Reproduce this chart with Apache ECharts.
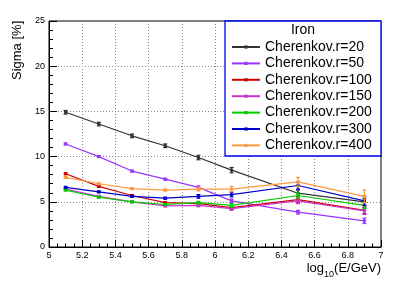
<!DOCTYPE html>
<html><head><meta charset="utf-8">
<script src="https://cdn.jsdelivr.net/npm/echarts@6/dist/echarts.min.js"></script>
<style>html,body{margin:0;padding:0;background:#fff}#c{width:415px;height:282px}</style>
</head><body><div id="c"></div>
<script>
const xs = [5.1, 5.3, 5.5, 5.7, 5.9, 6.1, 6.5, 6.9];
const names = ['Cherenkov.r=20','Cherenkov.r=50','Cherenkov.r=100','Cherenkov.r=150','Cherenkov.r=200','Cherenkov.r=300','Cherenkov.r=400'];
const colors = ['#333333','#9933ff','#cc0000','#cc33cc','#00cc00','#0000cc','#ff9940'];
const r20  = [14.9, 13.6, 12.3, 11.2, 9.9, 8.5, 5.95, 5.0];
const r50  = [11.4, 10.0, 8.4, 7.5, 6.6, 5.1, 3.85, 2.9];
const r100 = [8.1, 6.7, 5.7, 4.9, 4.8, 4.35, 5.25, 4.05];
const r150 = [6.4, 5.6, 5.0, 4.55, 4.6, 4.25, 5.1, 4.0];
const r200 = [6.3, 5.5, 5.0, 4.7, 4.9, 4.6, 5.7, 4.6];
const r300 = [6.6, 6.1, 5.6, 5.4, 5.6, 5.8, 6.8, 5.1];
const r400 = [7.7, 7.0, 6.45, 6.3, 6.4, 6.4, 7.2, 5.6];
const e20  = [0.2, 0.2, 0.2, 0.2, 0.25, 0.3, 0.35, 0.35];
const e50  = [0.1, 0.1, 0.1, 0.1, 0.15, 0.2, 0.2, 0.3];
const e100 = [0.1, 0.1, 0.1, 0.1, 0.15, 0.2, 0.3, 0.35];
const e150 = [0.1, 0.1, 0.1, 0.1, 0.15, 0.2, 0.3, 0.4];
const e200 = [0.1, 0.1, 0.1, 0.1, 0.15, 0.2, 0.3, 0.35];
const e300 = [0.1, 0.1, 0.1, 0.1, 0.2, 0.25, 0.4, 0.5];
const e400 = [0.1, 0.1, 0.1, 0.1, 0.2, 0.3, 0.5, 0.7];
const xTicks = ['5','5.2','5.4','5.6','5.8','6','6.2','6.4','6.6','6.8','7'];
const yTicks = ['0','5','10','15','20','25'];

const vals = [r20, r50, r100, r150, r200, r300, r400];
const errs = [e20, e50, e100, e150, e200, e300, e400];

const series = [];
vals.forEach((v, i) => {
  series.push({
    name: names[i], type: 'line', data: xs.map((x, j) => [x, v[j]]),
    symbol: 'rect', symbolSize: 3, showSymbol: true,
    lineStyle: {color: colors[i], width: 1.2}, itemStyle: {color: colors[i]},
    emphasis: {disabled: true}, z: 3 + i
  });
  series.push({
    name: 'err' + i, type: 'custom',
    data: xs.map((x, j) => [x, v[j] - errs[i][j], v[j] + errs[i][j]]),
    renderItem: function (params, api) {
      const x = api.value(0);
      const p1 = api.coord([x, api.value(1)]);
      const p2 = api.coord([x, api.value(2)]);
      const st = {stroke: colors[i], lineWidth: 1.2};
      return {type: 'group', children: [
        {type: 'line', shape: {x1: p1[0], y1: p1[1], x2: p2[0], y2: p2[1]}, style: st},
        {type: 'line', shape: {x1: p1[0]-2, y1: p1[1], x2: p1[0]+2, y2: p1[1]}, style: st},
        {type: 'line', shape: {x1: p2[0]-2, y1: p2[1], x2: p2[0]+2, y2: p2[1]}, style: st}
      ]};
    },
    z: 3 + i
  });
});

const FF = 'Liberation Sans';
const ctx = document.createElement('canvas').getContext('2d');
function tw(t, s) { ctx.font = s + 'px "' + FF + '"'; return ctx.measureText(t).width; }
const xr = 381, xb = 262;
const wPar = tw('(E/GeV)', 13), wSub = tw('10', 9);

const chart = echarts.init(document.getElementById('c'), null, {renderer: 'canvas'});
chart.setOption({
  animation: false,
  textStyle: {fontFamily: FF},
  grid: {left: 49, right: 34, top: 21, bottom: 35, show: true, borderColor: '#000', borderWidth: 1},
  xAxis: {
    type: 'value', min: 5, max: 7, interval: 0.2,
    axisLine: {show: true, lineStyle: {color: '#000'}},
    axisTick: {show: true, inside: true, length: 7, lineStyle: {color: '#000'}},
    minorTick: {show: true, splitNumber: 4, length: 3.5, lineStyle: {color: '#000'}},
    splitLine: {show: true, lineStyle: {color: '#888', type: [1, 2], width: 1}},
    axisLabel: {fontSize: 9, color: '#000', margin: 4,
      formatter: function (v) { const s = xTicks.find(t => Math.abs(parseFloat(t) - v) < 1e-6); return s === undefined ? '' : s; }}
  },
  yAxis: {
    type: 'value', min: 0, max: 25, interval: 5,
    axisLine: {show: true, lineStyle: {color: '#000'}},
    axisTick: {show: true, inside: true, length: 8, lineStyle: {color: '#000'}},
    minorTick: {show: true, splitNumber: 5, length: 4, lineStyle: {color: '#000'}},
    splitLine: {show: true, lineStyle: {color: '#888', type: [1, 2], width: 1}},
    axisLabel: {fontSize: 9, color: '#000', margin: 4,
      formatter: function (v) { const s = yTicks.find(t => Math.abs(parseFloat(t) - v) < 1e-6); return s === undefined ? '' : s; }}
  },
  legend: {
    data: names, orient: 'vertical', left: 231, top: 40, z: 30,
    itemWidth: 28, itemHeight: 4, itemGap: 2.4, padding: 0,
    textStyle: {fontSize: 14, lineHeight: 14, color: '#000', fontFamily: FF, padding: [0, 0, 0, 0]},
    selectedMode: false
  },
  graphic: [
    {type: 'rect', shape: {x: 225, y: 21, width: 156, height: 135}, style: {fill: '#fff', stroke: '#0000ee', lineWidth: 1.3}, z: 20},
    {type: 'text', x: 303, y: 23, style: {text: 'Iron', fontSize: 14, fill: '#000', fontFamily: FF, textAlign: 'center'}, z: 40},
    {type: 'text', x: 11, y: 80, rotation: Math.PI / 2, style: {text: 'Sigma [%]', fontSize: 13, fill: '#000', fontFamily: FF, textAlign: 'left', textVerticalAlign: 'top'}, z: 40},
    {type: 'text', x: xr, y: xb, style: {text: '(E/GeV)', fontSize: 13, fill: '#000', fontFamily: FF, textAlign: 'right'}, z: 40},
    {type: 'text', x: xr - wPar, y: xb + 8, style: {text: '10', fontSize: 9, fill: '#000', fontFamily: FF, textAlign: 'right'}, z: 40},
    {type: 'text', x: xr - wPar - wSub, y: xb, style: {text: 'log', fontSize: 13, fill: '#000', fontFamily: FF, textAlign: 'right'}, z: 40}
  ],
  series: series
});
</script>
</body></html>
